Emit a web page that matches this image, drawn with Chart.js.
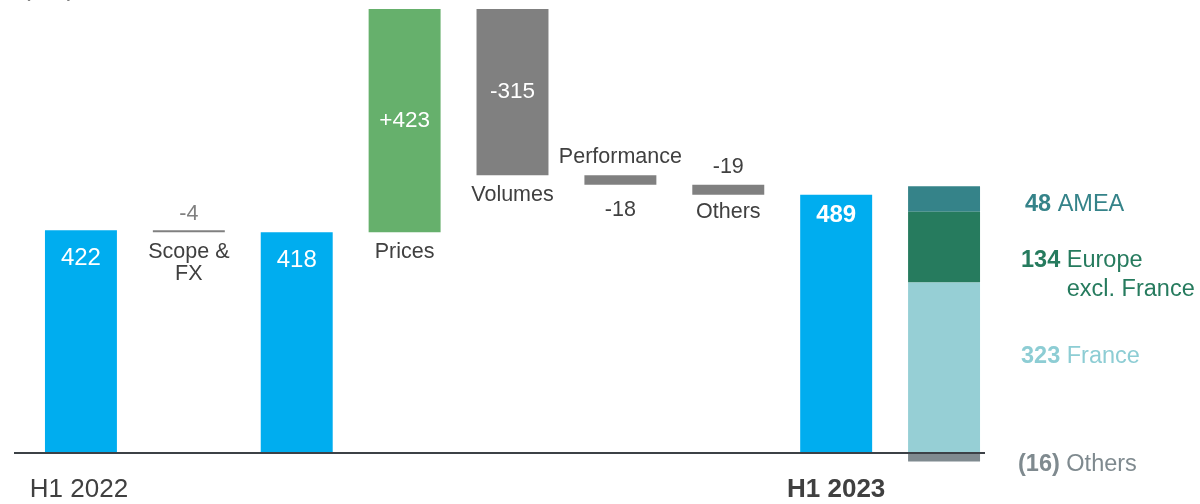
<!DOCTYPE html>
<html lang="en">
<head>
    <meta charset="UTF-8">
    <title>EBITDA bridge H1 2022 - H1 2023</title>
    <script src="https://cdn.jsdelivr.net/npm/chart.js"></script>
    <style>
        html, body { margin: 0; padding: 0; background: #fff; }
        #wrap { width: 1200px; height: 504px; position: relative; }
    </style>
</head>
<body>
    <div id="wrap"><canvas id="bridgeChart"></canvas></div>

    <script>
        // --- data ---
        const categories = ['H1 2022', 'Scope & FX', 'H1 2022 restated', 'Prices', 'Volumes', 'Performance', 'Others', 'H1 2023', 'Split'];
        const totals = [422, null, 418, null, null, null, null, 489, null];
        const changes = [null, -4, null, 423, -315, -18, -19, null, null];
        const changeNames = [null, ['Scope &', 'FX'], null, ['Prices'], ['Volumes'], ['Performance'], ['Others'], null, null];
        const regionNames = ['Others', 'France', 'Europe', 'AMEA'];
        const regionValues = [-16, 323, 134, 48];
        const regionColors = ['#7f8a8f', '#96cfd5', '#267b5e', '#358389'];
        const unitLabel = '(€m)';

        const BLUE = '#00adef', GREEN = '#66b06c', GREY = '#808080', DARK = '#404040';

        // floating bars for the bridge
        let running = 0;
        const totalBars = [], changeBars = [];
        categories.forEach((c, i) => {
            if (totals[i] !== null) {
                running = totals[i];
                totalBars.push([0, totals[i]]);
                changeBars.push(null);
            } else if (changes[i] !== null) {
                totalBars.push(null);
                changeBars.push([running, running + changes[i]]);
                running += changes[i];
            } else {
                totalBars.push(null);
                changeBars.push(null);
            }
        });
        const changeColors = changes.map(v => v !== null && v > 0 ? GREEN : GREY);

        // stacked split of the last column (negative part hangs below zero)
        const regionDatasets = [];
        let stackTop = 0;
        regionValues.forEach((v, k) => {
            const d = categories.map(() => null);
            if (v < 0) {
                d[categories.length - 1] = [0, v];
            } else {
                d[categories.length - 1] = [stackTop, stackTop + v];
                stackTop += v;
            }
            regionDatasets.push({
                label: regionNames[k],
                data: d,
                backgroundColor: regionColors[k],
                grouped: false,
                barPercentage: 0.667,
                categoryPercentage: 1
            });
        });

        const FONT = '"Liberation Sans", Arial, sans-serif';

        const labelPlugin = {
            id: 'bridgeLabels',
            afterDatasetsDraw(chart) {
                const ctx = chart.ctx;
                const y = chart.scales.y;
                const area = chart.chartArea;
                const zero = y.getPixelForValue(0);

                // baseline
                ctx.save();
                ctx.strokeStyle = '#3c4146';
                ctx.lineWidth = 2;
                ctx.beginPath();
                ctx.moveTo(area.left - 13, zero);
                ctx.lineTo(area.right - 13, zero);
                ctx.stroke();

                ctx.textAlign = 'center';
                ctx.textBaseline = 'middle';

                // totals
                const tMeta = chart.getDatasetMeta(0);
                totals.forEach((v, i) => {
                    if (v === null) return;
                    const bar = tMeta.data[i];
                    const last = i === categories.length - 2;
                    ctx.fillStyle = '#fff';
                    ctx.font = (last ? 'bold ' : '') + '24px ' + FONT;
                    ctx.fillText(String(v), bar.x, bar.y + (last ? 21 : 28));
                });

                // changes
                const cMeta = chart.getDatasetMeta(1);
                changes.forEach((v, i) => {
                    if (v === null) return;
                    const bar = cMeta.data[i];
                    const top = Math.min(bar.y, bar.base);
                    const bottom = Math.max(bar.y, bar.base);
                    const txt = (v > 0 ? '+' : '') + v;
                    const names = changeNames[i];
                    if (bottom - top > 60) {
                        // big bar: value inside, name under
                        ctx.fillStyle = '#fff';
                        ctx.font = '22.5px ' + FONT;
                        ctx.fillText(txt, bar.x, (top + bottom) / 2);
                        ctx.fillStyle = DARK;
                        ctx.font = '21.5px ' + FONT;
                        names.forEach((n, k) => ctx.fillText(n, bar.x, bottom + 20 + k * 22));
                    } else if (v < -1 && v > -10) {
                        // thin bar: value above, name under
                        ctx.font = '21.5px ' + FONT;
                        ctx.fillStyle = GREY;
                        ctx.fillText(txt, bar.x, top - 16);
                        ctx.fillStyle = DARK;
                        names.forEach((n, k) => ctx.fillText(n, bar.x, bottom + 20 + k * 22));
                    } else if (i === 5) {
                        ctx.font = '21.5px ' + FONT;
                        ctx.fillStyle = DARK;
                        ctx.fillText(names[0], bar.x, top - 18);
                        ctx.fillText(txt, bar.x, bottom + 25);
                    } else {
                        ctx.font = '21.5px ' + FONT;
                        ctx.fillStyle = DARK;
                        ctx.fillText(txt, bar.x, top - 18);
                        ctx.fillText(names[0], bar.x, bottom + 17);
                    }
                });

                // category labels under the axis
                ctx.fillStyle = DARK;
                ctx.font = '26px ' + FONT;
                ctx.fillText(categories[0], tMeta.data[0].x - 2, zero + 37);
                ctx.font = 'bold 26px ' + FONT;
                ctx.fillText(categories[7], tMeta.data[7].x, zero + 37);

                // legend for the split column
                ctx.textAlign = 'left';
                const lx = area.right + 23;
                const colors = ['#7f8a8f', '#8dcdd4', '#267b5e', '#358389'];
                const yPos = [465, 357, 261, 205];
                [3, 2, 1, 0].forEach(k => {
                    const v = regionValues[k];
                    const num = v < 0 ? '(' + Math.abs(v) + ')' : String(v);
                    const py = yPos[k];
                    ctx.fillStyle = colors[k];
                    ctx.font = 'bold 23.5px ' + FONT;
                    const x0 = k === 3 ? lx + 4 : (k === 0 ? lx - 3 : lx);
                    ctx.fillText(num, x0, py);
                    const w = ctx.measureText(num + ' ').width;
                    ctx.font = '23.5px ' + FONT;
                    ctx.fillText(regionNames[k], x0 + w, py);
                    if (k === 2) ctx.fillText('excl. France', x0 + w, py + 29);
                });

                // unit label, mostly cut off at the top
                ctx.fillStyle = GREY;
                ctx.font = '26px ' + FONT;
                ctx.fillText(unitLabel, 22, -11);
                ctx.restore();
            }
        };

        new Chart(document.getElementById('bridgeChart'), {
            type: 'bar',
            data: {
                labels: categories,
                datasets: [
                    {
                        label: 'Totals',
                        data: totalBars,
                        backgroundColor: BLUE,
                        grouped: false,
                        barPercentage: 0.667,
                        categoryPercentage: 1
                    },
                    {
                        label: 'Changes',
                        data: changeBars,
                        backgroundColor: changeColors,
                        grouped: false,
                        barPercentage: 0.667,
                        categoryPercentage: 1
                    },
                    ...regionDatasets
                ]
            },
            options: {
                responsive: true,
                maintainAspectRatio: false,
                animation: false,
                layout: { padding: { left: 27, right: 202, top: 0, bottom: 0 } },
                plugins: { legend: { display: false }, tooltip: { enabled: false } },
                scales: {
                    x: { display: false, offset: true },
                    y: { display: false, min: -96.6, max: 858 }
                }
            },
            plugins: [labelPlugin]
        });
    </script>
</body>
</html>
